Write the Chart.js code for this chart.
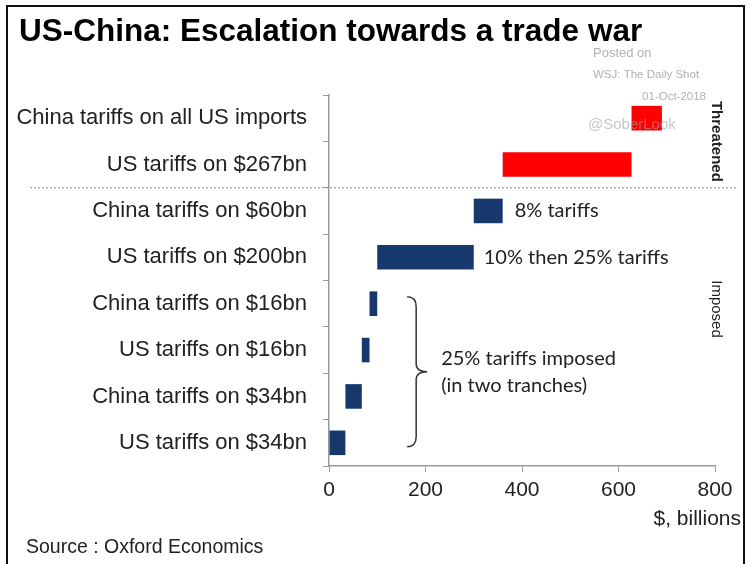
<!DOCTYPE html>
<html>
<head>
<meta charset="utf-8">
<script src="https://cdn.jsdelivr.net/npm/chart.js@4/dist/chart.umd.min.js"></script>
<style>
  body { margin: 0; background: #fff; }
  #wrap { width: 749px; height: 564px; position: relative; }
</style>
</head>
<body>
<div id="wrap"><canvas id="c" width="749" height="564"></canvas></div>
<script>
// categories, top to bottom
const categories = [
    'China tariffs on all US imports',
    'US tariffs on $267bn',
    'China tariffs on $60bn',
    'US tariffs on $200bn',
    'China tariffs on $16bn',
    'US tariffs on $16bn',
    'China tariffs on $34bn',
    'US tariffs on $34bn'
];
const barStart = [627, 360, 300, 100, 84, 68, 34, 0];
const barEnd = [690, 627, 360, 300, 100, 84, 68, 34];
const threatened = [true, true, false, false, false, false, false, false];
const xTicks = [0, 200, 400, 600, 800];

const RED = '#ff0000';
const NAVY = '#17386c';
const TEXT = '#222222';

// overlay text, frame, dotted divider, brace
const extrasPlugin = {
    id: 'extras',
    afterDatasetsDraw(chart) {
        const ctx = chart.ctx;
        const xs = chart.scales.x;
        const ys = chart.scales.y;
        ctx.save();

        // frame
        ctx.strokeStyle = '#111';
        ctx.lineWidth = 2;
        ctx.beginPath();
        ctx.moveTo(7, 564);
        ctx.lineTo(7, 6);
        ctx.lineTo(744, 6);
        ctx.lineTo(744, 564);
        ctx.stroke();

        // title
        ctx.fillStyle = '#000';
        ctx.font = 'bold 31.5px "Liberation Sans", Arial';
        ctx.textBaseline = 'alphabetic';
        ctx.textAlign = 'left';
        ctx.fillText('US-China: Escalation towards a trade war', 19, 41);

        // dotted divider between threatened and imposed
        const yDiv = (ys.getPixelForValue(1) + ys.getPixelForValue(2)) / 2;
        ctx.strokeStyle = '#888';
        ctx.lineWidth = 1;
        ctx.setLineDash([2, 2]);
        ctx.beginPath();
        ctx.moveTo(30, yDiv);
        ctx.lineTo(736, yDiv);
        ctx.stroke();
        ctx.setLineDash([]);

        // bar notes
        ctx.fillStyle = TEXT;
        ctx.font = '20px Lato, "Open Sans", sans-serif';
        ctx.textBaseline = 'middle';
        ctx.fillText('8% tariffs', xs.getPixelForValue(barEnd[2]) + 12, ys.getPixelForValue(2));
        ctx.fillText('10% then 25% tariffs', xs.getPixelForValue(barEnd[3]) + 10, ys.getPixelForValue(3));

        // brace over the four first rounds
        const bTop = ys.getPixelForValue(4) - 7;
        const bBot = ys.getPixelForValue(7) + 4;
        const bMid = (bTop + bBot) / 2;
        const bx = xs.getPixelForValue(162);
        ctx.strokeStyle = '#333';
        ctx.lineWidth = 1.5;
        ctx.beginPath();
        ctx.moveTo(bx, bTop);
        ctx.quadraticCurveTo(bx + 9, bTop, bx + 9, bTop + 10);
        ctx.lineTo(bx + 9, bMid - 8);
        ctx.quadraticCurveTo(bx + 9, bMid, bx + 20, bMid);
        ctx.quadraticCurveTo(bx + 9, bMid, bx + 9, bMid + 8);
        ctx.lineTo(bx + 9, bBot - 10);
        ctx.quadraticCurveTo(bx + 9, bBot, bx, bBot);
        ctx.stroke();
        ctx.fillText('25% tariffs imposed', bx + 34, bMid - 13);
        ctx.fillText('(in two tranches)', bx + 34, bMid + 14);

        // side labels
        ctx.font = 'bold 15px "Liberation Sans", Arial';
        ctx.save();
        ctx.translate(716, (ys.getPixelForValue(0) + ys.getPixelForValue(1)) / 2);
        ctx.rotate(Math.PI / 2);
        ctx.textAlign = 'center';
        ctx.fillText('Threatened', 0, 0);
        ctx.restore();
        ctx.font = '15px "Liberation Sans", Arial';
        ctx.save();
        ctx.translate(716, 309);
        ctx.rotate(Math.PI / 2);
        ctx.textAlign = 'center';
        ctx.fillText('Imposed', 0, 0);
        ctx.restore();

        // axis title
        ctx.fillStyle = TEXT;
        ctx.font = '21px "Liberation Sans", Arial';
        ctx.textAlign = 'right';
        ctx.fillText('$, billions', 741, 519);

        // source
        ctx.textAlign = 'left';
        ctx.font = '19.5px "Liberation Sans", Arial';
        ctx.fillText('Source : Oxford Economics', 26, 548);

        // watermark
        ctx.fillStyle = 'rgba(150,150,150,0.75)';
        ctx.font = '13px "Liberation Sans", Arial';
        ctx.fillText('Posted on', 593, 53);
        ctx.font = '11.5px "Liberation Sans", Arial';
        ctx.fillText('WSJ: The Daily Shot', 593, 75);
        ctx.textAlign = 'right';
        ctx.fillText('01-Oct-2018', 706, 97);
        ctx.textAlign = 'left';
        ctx.fillStyle = 'rgba(160,160,160,0.6)';
        ctx.font = '15px "Liberation Sans", Arial';
        ctx.fillText('@SoberLook', 588, 125);

        ctx.restore();
    }
};

new Chart(document.getElementById('c'), {
    type: 'bar',
    data: {
        labels: categories,
        datasets: [{
            data: barStart.map((s, i) => [s, barEnd[i]]),
            backgroundColor: threatened.map(t => t ? RED : NAVY),
            borderWidth: 0,
            borderSkipped: false,
            barPercentage: 0.53,
            categoryPercentage: 1
        }]
    },
    options: {
        indexAxis: 'y',
        responsive: false,
        animation: false,
        layout: { padding: { left: 0, right: 34, top: 95, bottom: 68 } },
        plugins: {
            legend: { display: false },
            tooltip: { enabled: false }
        },
        scales: {
            x: {
                min: 0,
                max: 800,
                afterBuildTicks: (scale) => { scale.ticks = xTicks.map(v => ({ value: v })); },
                afterFit: (scale) => { scale.height = 30; },
                grid: { drawOnChartArea: false, drawTicks: true, tickLength: 6, color: '#999' },
                border: { display: true, color: '#999', width: 1.5 },
                ticks: {
                    color: TEXT,
                    padding: 6,
                    font: { family: '"Liberation Sans", Arial', size: 21 }
                }
            },
            y: {
                afterFit: (scale) => { scale.width = 329; },
                grid: { drawOnChartArea: false, drawTicks: true, tickLength: 6, color: '#999', offset: true },
                border: { display: true, color: '#999', width: 1.5 },
                ticks: {
                    color: TEXT,
                    padding: 16,
                    font: { family: '"Liberation Sans", Arial', size: 22 }
                }
            }
        }
    },
    plugins: [extrasPlugin]
});
</script>
</body>
</html>
